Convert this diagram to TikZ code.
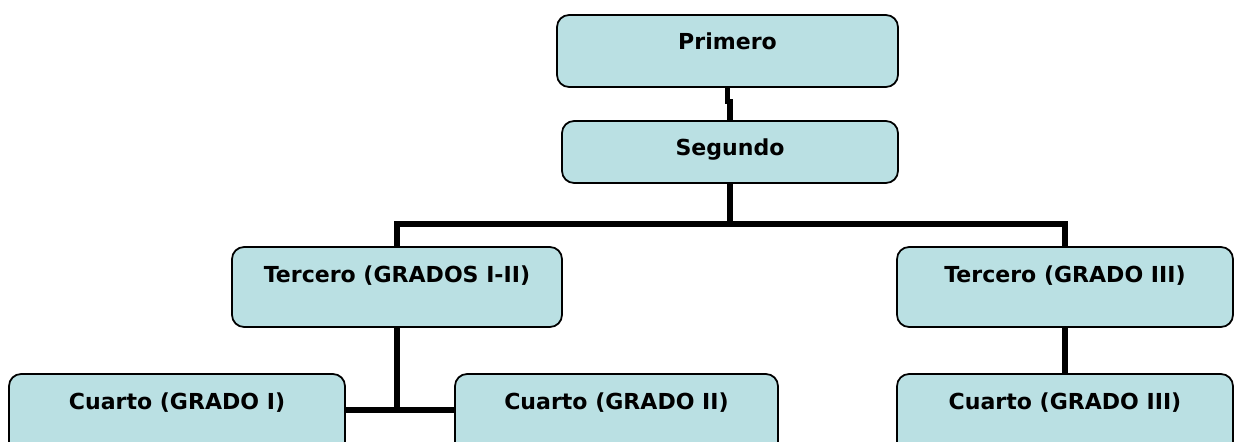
\documentclass[tikz,border=0pt]{standalone}
\usepackage{fontspec}
\setmainfont{DejaVu Sans}
\usetikzlibrary{calc}
\definecolor{boxfill}{RGB}{186,224,227}
\tikzset{
	grado/.style={draw=black, fill=boxfill, rounded corners=0.24cm, line width=1pt,
		inner sep=0pt, text height=0.7cm, font=\fontsize{12.55}{14}\selectfont\bfseries},
	enlace/.style={line width=2.9pt}
}

\begin{document}
\begin{tikzpicture}[x=0.02cm,y=-0.02cm]
			%%%%% START %%%%%
			\def\wide{6.72cm}
			\def\ytop{51}
			\def\ysec{152}
			\def\ythr{287}
			\def\yfour{414}
			\def\ybus{224}
			\def\yfork{410}
			
			\useasboundingbox (0,0) rectangle (1234,442);
			
			\node[grado, minimum width=6.82cm, text depth=0.74cm] (prim) at (727.5,\ytop) {Primero};
			\node[grado, minimum width=\wide, text depth=0.54cm] (seg) at (730,\ysec) {Segundo};
			
			\node[grado, minimum width=6.6cm, text depth=0.9cm] (terI) at (397,\ythr) {Tercero (GRADOS I-II)};
			\node[grado, minimum width=\wide, text depth=0.9cm] (terIII) at (1065,\ythr) {Tercero (GRADO III)};
			
			\node[grado, minimum width=\wide, text depth=0.9cm] (cuaI) at (177,\yfour) {Cuarto (GRADO I)};
			\node[grado, minimum width=6.46cm, text depth=0.9cm] (cuaII) at (616.5,\yfour) {Cuarto (GRADO II)};
			\node[grado, minimum width=\wide, text depth=0.9cm] (cuaIII) at (1065,\yfour) {Cuarto (GRADO III)};
			
			\coordinate (bus) at (730,\ybus);
			\coordinate (fork) at (397,\yfork);
			
			\draw[enlace] (prim.south) -- ++(0,14) -| (seg.north);
			\draw[enlace] (seg.south) -- (bus);
			\draw[enlace] (terI.north) |- (bus) -| (terIII.north);
			
			\draw[enlace] (terI.south) -- (fork);
			\draw[enlace] (cuaI.east |- fork) -- (cuaII.west |- fork);
			
			\draw[enlace] (terIII.south) -- (cuaIII.north);
			%%%%% END %%%%%
\end{tikzpicture}
\end{document}
